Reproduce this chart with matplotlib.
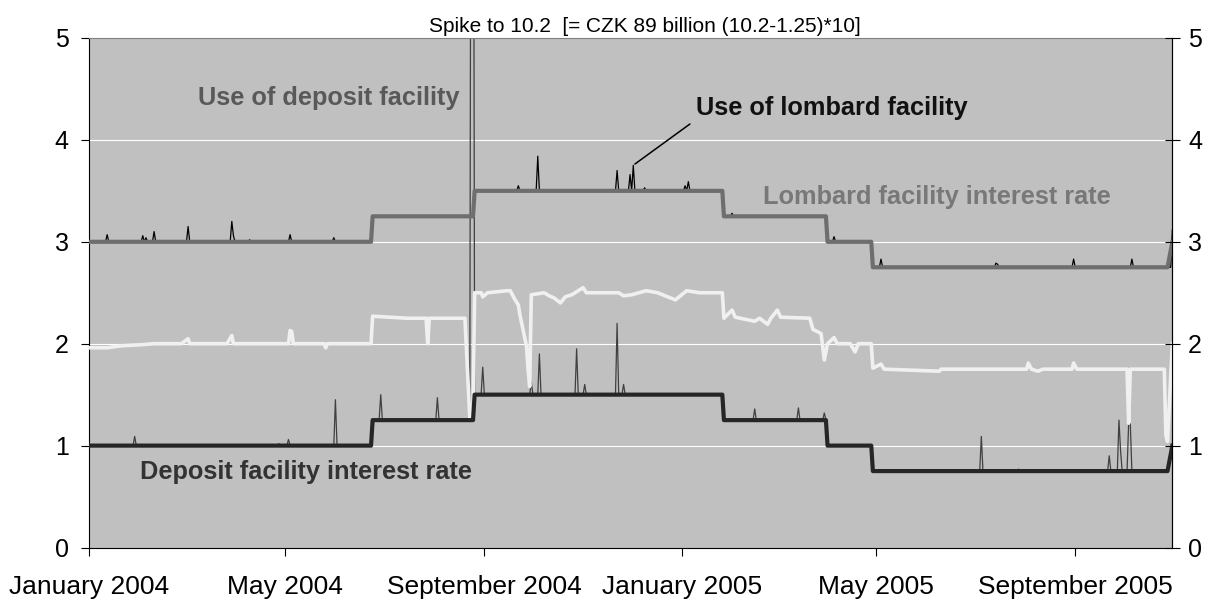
import matplotlib
matplotlib.use("Agg")
import matplotlib.pyplot as plt
import pandas as pd

plt.rcParams['font.family'] = ['Liberation Sans', 'DejaVu Sans']

# policy rates (corner points of the steps, business days)
rate_dates = ['2004-01-01', '2004-06-23', '2004-06-24', '2004-08-25', '2004-08-26',
              '2005-01-26', '2005-01-27', '2005-03-31', '2005-04-01', '2005-04-28',
              '2005-04-29', '2005-10-28', '2005-10-31']
lombard_rate = [3.0, 3.0, 3.25, 3.25, 3.5, 3.5, 3.25, 3.25, 3.0, 3.0, 2.75, 2.75, 3.0]
deposit_rate = [1.0, 1.0, 1.25, 1.25, 1.5, 1.5, 1.25, 1.25, 1.0, 1.0, 0.75, 0.75, 1.0]

# overnight rate (white line)
on_dates = ['2004-01-01', '2004-01-12', '2004-01-21', '2004-02-02', '2004-02-10', '2004-02-27',
            '2004-03-02', '2004-03-03', '2004-03-26', '2004-03-29', '2004-03-30', '2004-05-03',
            '2004-05-04', '2004-05-05', '2004-05-06', '2004-05-25', '2004-05-26', '2004-05-27',
            '2004-06-23', '2004-06-24', '2004-07-15', '2004-07-27', '2004-07-28', '2004-07-29',
            '2004-08-20', '2004-08-23', '2004-08-25', '2004-08-26', '2004-08-30', '2004-08-31',
            '2004-09-03', '2004-09-15', '2004-09-17', '2004-09-20', '2004-09-22', '2004-09-23',
            '2004-09-27', '2004-09-28', '2004-09-29', '2004-09-30', '2004-10-08', '2004-10-11',
            '2004-10-14', '2004-10-18', '2004-10-21', '2004-10-25', '2004-11-01', '2004-11-03',
            '2004-11-23', '2004-11-26', '2004-12-01', '2004-12-10', '2004-12-17', '2004-12-28',
            '2005-01-04', '2005-01-12', '2005-01-26', '2005-01-27', '2005-02-01', '2005-02-03',
            '2005-02-15', '2005-02-18', '2005-02-23', '2005-02-25', '2005-03-01', '2005-03-03',
            '2005-03-21', '2005-03-23', '2005-03-28', '2005-03-30', '2005-04-01', '2005-04-05',
            '2005-04-07', '2005-04-15', '2005-04-18', '2005-04-20', '2005-04-28', '2005-04-29',
            '2005-05-04', '2005-05-06', '2005-06-09', '2005-06-10', '2005-08-02', '2005-08-03',
            '2005-08-05', '2005-08-09', '2005-08-12', '2005-08-30', '2005-08-31', '2005-09-02',
            '2005-10-03', '2005-10-04', '2005-10-05', '2005-10-26', '2005-10-27', '2005-10-28',
            '2005-10-31']
on_rate = [1.96, 1.96, 1.98, 1.99, 2.00, 2.00,
           2.05, 2.00, 2.00, 2.08, 2.00, 2.00,
           2.13, 2.12, 2.00, 2.00, 1.96, 2.00,
           2.00, 2.27, 2.25, 2.25, 2.00, 2.25,
           2.25, 1.28, 1.30, 2.50, 2.50, 2.46,
           2.50, 2.52, 2.52, 2.43, 2.38, 2.28,
           1.98, 1.75, 1.58, 2.48, 2.50, 2.47,
           2.45, 2.40, 2.46, 2.48, 2.55, 2.50,
           2.50, 2.47, 2.48, 2.52, 2.50, 2.43,
           2.52, 2.50, 2.50, 2.25, 2.33, 2.26,
           2.22, 2.25, 2.19, 2.25, 2.33, 2.26,
           2.25, 2.14, 2.10, 1.84, 2.00, 2.06,
           2.00, 2.00, 1.92, 2.00, 2.00, 1.76,
           1.80, 1.75, 1.73, 1.75, 1.75, 1.81,
           1.75, 1.73, 1.75, 1.75, 1.81, 1.75,
           1.75, 1.22, 1.75, 1.75, 1.10, 1.04,
           2.00]

# days with use of the lombard facility above the rate
lombard_use_dates = ['2004-01-12', '2004-02-03', '2004-02-05', '2004-02-10', '2004-03-02',
                     '2004-03-29', '2004-03-30', '2004-04-09', '2004-05-04', '2004-05-31',
                     '2004-09-22', '2004-10-04', '2004-11-22', '2004-11-30', '2004-12-02',
                     '2004-12-09', '2005-01-03', '2005-01-05', '2005-02-01', '2005-04-05',
                     '2005-05-04', '2005-07-14', '2005-07-15', '2005-08-31', '2005-10-06',
                     '2005-10-31']
lombard_use = [3.07, 3.06, 3.04, 3.10, 3.15,
               3.20, 3.06, 3.02, 3.07, 3.04,
               3.55, 3.84, 3.70, 3.66, 3.75,
               3.53, 3.55, 3.59, 3.28, 3.05,
               2.83, 2.79, 2.78, 2.83, 2.83,
               3.12]

# days with use of the deposit facility above the rate
deposit_use_dates = ['2004-01-29', '2004-04-27', '2004-05-03', '2004-06-01', '2004-06-29',
                     '2004-08-03', '2004-08-24', '2004-08-25', '2004-08-31', '2004-09-30',
                     '2004-10-05', '2004-10-28', '2004-11-02', '2004-11-22', '2004-11-26',
                     '2005-02-15', '2005-03-14', '2005-03-30', '2005-07-05', '2005-07-28',
                     '2005-09-22', '2005-09-28', '2005-09-29', '2005-10-04', '2005-10-05']
deposit_use = [1.09, 1.02, 1.06, 1.45, 1.50,
               1.47, 10.2, 10.2, 1.77, 1.62,
               1.90, 1.95, 1.60, 2.20, 1.60,
               1.36, 1.37, 1.32, 1.09, 0.77,
               0.90, 1.25, 0.95, 1.22, 1.22]

tick_dates = ['2004-01-01', '2004-05-01', '2004-09-01', '2005-01-01', '2005-05-01', '2005-09-01']
tick_labels = ['January 2004', 'May 2004', 'September 2004', 'January 2005', 'May 2005',
               'September 2005']


def usage_path(rate_d, rate_v, spike_d, spike_v):
    # usage equals the rate except on the listed days
    rate = pd.Series(rate_v, index=pd.to_datetime(rate_d))
    spikes = dict(zip(pd.to_datetime(spike_d), spike_v))
    pts = dict(zip(rate.index, rate.values))
    for d in spikes:
        for nb in (d - pd.Timedelta(days=1), d + pd.Timedelta(days=1)):
            if nb not in spikes:
                pts[nb] = rate.asof(nb)
    pts.update(spikes)
    s = pd.Series(pts).sort_index()
    return s.index, s.values


fig = plt.figure(figsize=(12.09, 6.01), dpi=100)
ax = fig.add_axes([0.0739, 0.0890, 0.8958, 0.8478])
ax.set_facecolor('#c0c0c0')

for y in [1, 2, 3, 4]:
    ax.axhline(y, color='white', lw=0.8, zorder=1)

dx, dy = usage_path(rate_dates, deposit_rate, deposit_use_dates, deposit_use)
ax.plot(dx, dy, color='#404040', lw=0.9, zorder=2)
lx, ly = usage_path(rate_dates, lombard_rate, lombard_use_dates, lombard_use)
ax.plot(lx, ly, color='black', lw=0.9, zorder=2)

ax.plot(pd.to_datetime(on_dates), on_rate, color='#f0f0f0', lw=2.6, zorder=3)
ax.plot(pd.to_datetime(rate_dates), lombard_rate, color='#6e6e6e', lw=3, zorder=4)
ax.plot(pd.to_datetime(rate_dates), deposit_rate, color='#262626', lw=3, zorder=4)

ax.set_xlim(pd.Timestamp('2004-01-01'), pd.Timestamp('2005-10-31'))
ax.set_ylim(0, 5)
ax.set_yticks(range(6))
ax.set_xticks(pd.to_datetime(tick_dates))
ax.set_xticklabels(tick_labels)
ax.tick_params(axis='x', direction='out', length=5.5, width=0.8, labelsize=19, pad=14)
ax.tick_params(axis='y', direction='out', length=5.8, width=0.8, labelsize=18, pad=9)
for side in ['left', 'bottom', 'right']:
    ax.spines[side].set_color('black')
    ax.spines[side].set_linewidth(0.8)
ax.spines['top'].set_color('#808080')
ax.spines['top'].set_linewidth(0.8)

ax2 = ax.twinx()
ax2.set_ylim(0, 5)
ax2.set_yticks(range(6))
ax2.tick_params(axis='y', direction='inout', length=10.8, width=0.8, labelsize=18, pad=6)
for side in ['left', 'bottom', 'top']:
    ax2.spines[side].set_visible(False)
ax2.spines['right'].set_linewidth(0.8)

# labels
ax.text(pd.Timestamp('2004-03-08'), 4.347, 'Use of deposit facility', color='#595959',
        fontsize=18.3, fontweight='bold', ha='left', va='baseline', zorder=5)
ax.text(pd.Timestamp('2005-01-10'), 4.244, 'Use of lombard facility', color='#111111',
        fontsize=18.3, fontweight='bold', ha='left', va='baseline', zorder=5)
ax.text(pd.Timestamp('2005-02-20'), 3.375, 'Lombard facility interest rate', color='#787878',
        fontsize=18.3, fontweight='bold', ha='left', va='baseline', zorder=5)
ax.text(pd.Timestamp('2004-02-01'), 0.677, 'Deposit facility interest rate', color='#333333',
        fontsize=18.3, fontweight='bold', ha='left', va='baseline', zorder=5)
ax.annotate('', xy=(pd.Timestamp('2004-12-03'), 3.763),
            xytext=(pd.Timestamp('2005-01-06'), 4.156),
            arrowprops=dict(arrowstyle='-', color='black', lw=1.1, shrinkA=0, shrinkB=0),
            zorder=5)

fig.text(645 / 1209, 1 - 32.3 / 601, 'Spike to 10.2  [= CZK 89 billion (10.2-1.25)*10]',
         fontsize=15, ha='center', va='baseline')

fig.savefig('out.png', dpi=100)
